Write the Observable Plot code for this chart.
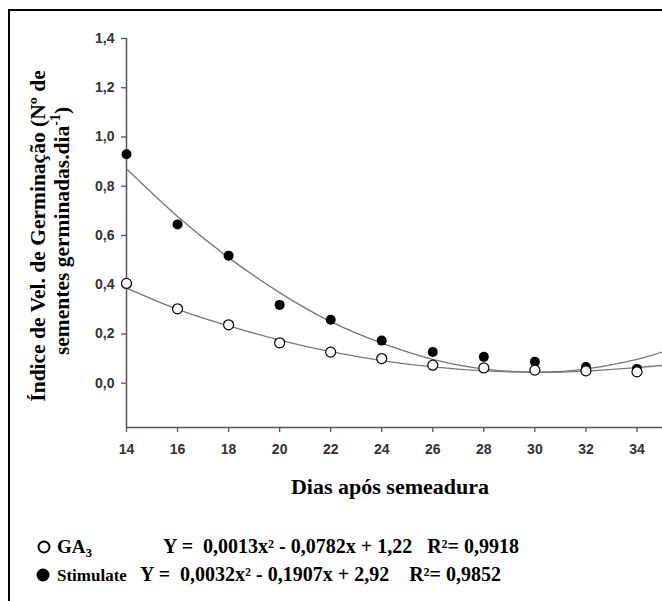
<!DOCTYPE html>
<html><head><meta charset="utf-8">
<script src="https://cdn.jsdelivr.net/npm/d3@7"></script>
<script src="https://cdn.jsdelivr.net/npm/@observablehq/plot@0.6"></script>
<style>
html,body{margin:0;padding:0;background:#fff;width:662px;height:601px;overflow:hidden;position:relative;}
#frame{position:absolute;left:8px;top:9px;width:720px;height:720px;border:2px solid #000;box-sizing:border-box;}
#chart{position:absolute;left:0;top:0;}
</style></head><body>
<div id="frame"></div>
<div id="chart"></div>
<script>
const days = [14,16,18,20,22,24,26,28,30,32,34];
const ga3 = [0.405,0.302,0.237,0.164,0.126,0.100,0.073,0.062,0.053,0.050,0.046];
const stim = [0.930,0.645,0.518,0.318,0.258,0.173,0.127,0.107,0.087,0.066,0.058];
// Fitted curves
const curveDays = [14,16,18,20,22,24,26,28,30,32,34,35];
const ga3Fit  = [0.386,0.300,0.233,0.175,0.128,0.092,0.066,0.050,0.044,0.049,0.063,0.072];
const stimFit = [0.871,0.677,0.510,0.368,0.250,0.163,0.097,0.058,0.045,0.058,0.097,0.127];
// Axes
const xTicks = [14,16,18,20,22,24,26,28,30,32,34];
const yTicks = [0,0.2,0.4,0.6,0.8,1.0,1.2,1.4];
const xDomain = [14,35];
const yDomain = [-0.18,1.4];
// Texts
const yLabel1 = "Índice de Vel. de Germinação (Nº de";
const yLabel2 = "sementes germinadas.dia";
const xLabel = "Dias após semeadura";
const series = ["GA", "Stimulate"];
const equations = ["Y =  0,0013x² - 0,0782x + 1,22   R²= 0,9918", "Y =  0,0032x² - 0,1907x + 2,92    R²= 0,9852"];

const pts = (arr) => days.map((d,i)=>({x:d,y:arr[i]}));
const fit = (arr) => curveDays.map((d,i)=>({x:d,y:arr[i]}));
const fmt = v => d3.format(".1f")(v).replace(".", ",");

const plot = Plot.plot({
  width:662, height:601,
  marginTop:38, marginLeft:126, marginRight:0, marginBottom:174,
  x:{domain:xDomain}, y:{domain:yDomain},
  style:{fontFamily:"'Liberation Sans', Arial, sans-serif", background:"transparent"},
  marks:[
    Plot.axisX({ticks:xTicks, tickSize:5, tickPadding:12, fontSize:14, fontWeight:"bold", label:null, stroke:"#555", fill:"#333", strokeWidth:1.3}),
    Plot.axisY({ticks:yTicks, tickSize:5, tickPadding:7, tickFormat:fmt, fontSize:14, fontWeight:"bold", label:null, stroke:"#555", fill:"#333", strokeWidth:1.3}),
    Plot.ruleX([xDomain[0]], {stroke:"#555", strokeWidth:1.5}),
    Plot.ruleY([yDomain[0]], {stroke:"#555", strokeWidth:1.5}),
    Plot.line(fit(stimFit), {x:"x", y:"y", curve:"natural", stroke:"#777", strokeWidth:1.3}),
    Plot.line(fit(ga3Fit), {x:"x", y:"y", curve:"natural", stroke:"#777", strokeWidth:1.3}),
    Plot.dot(pts(stim), {x:"x", y:"y", r:5, fill:"#000"}),
    Plot.dot(pts(ga3), {x:"x", y:"y", r:5, fill:"#fff", stroke:"#000", strokeWidth:1.2})
  ]
});
document.getElementById("chart").appendChild(plot);

const svg = d3.select(plot);
const serif = "'Liberation Serif', 'Times New Roman', serif";
// Y label
svg.append("text").attr("transform","translate(40,236) rotate(-90)")
  .attr("text-anchor","middle").attr("dominant-baseline","middle")
  .attr("font-family",serif).attr("font-weight","bold").attr("font-size",21.5).attr("fill","#000")
  .text(yLabel1);
const t2 = svg.append("text").attr("transform","translate(64,231) rotate(-90)")
  .attr("text-anchor","middle").attr("dominant-baseline","middle")
  .attr("font-family",serif).attr("font-weight","bold").attr("font-size",21.5).attr("fill","#000");
t2.append("tspan").text(yLabel2);
t2.append("tspan").attr("dy",-7).attr("font-size",14).text("-1");
t2.append("tspan").attr("dy",7).text(")");
// X label
svg.append("text").attr("x",390).attr("y",494).attr("text-anchor","middle")
  .attr("font-family",serif).attr("font-weight","bold").attr("font-size",22).attr("fill","#000")
  .text(xLabel);
// Legend
const lg = svg.append("g").attr("font-family",serif).attr("font-weight","bold").attr("font-size",20)
  .attr("fill","#000").attr("text-anchor","start");
lg.append("circle").attr("cx",44).attr("cy",547).attr("r",5.5).attr("fill","#fff").attr("stroke","#000").attr("stroke-width",2);
const g1 = lg.append("text").attr("x",57).attr("y",553).attr("font-size",19);
g1.append("tspan").text(series[0]);
g1.append("tspan").attr("dy",4).attr("font-size",13).text("3");
lg.append("text").attr("x",163).attr("y",553).style("white-space","pre").text(equations[0]);
lg.append("circle").attr("cx",43).attr("cy",575).attr("r",6.5).attr("fill","#000");
lg.append("text").attr("x",57).attr("y",581).attr("font-size",17).text(series[1]);
lg.append("text").attr("x",140).attr("y",581).style("white-space","pre").text(equations[1]);
</script>
</body></html>
